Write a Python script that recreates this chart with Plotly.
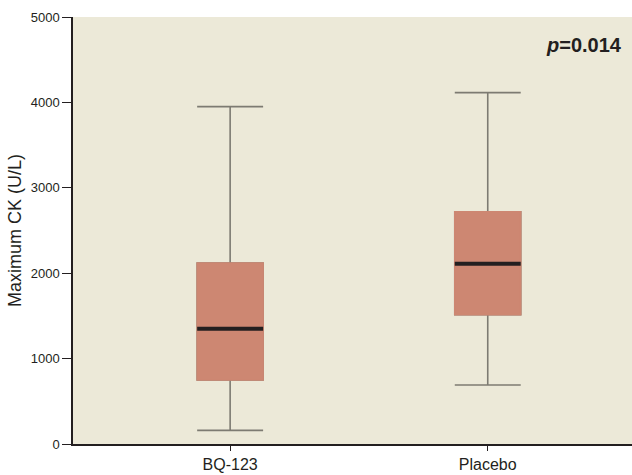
import plotly.graph_objects as go

groups = ["BQ-123", "Placebo"]
lower_whisker = [160, 690]
q1 = [750, 1515]
median = [1350, 2110]
q3 = [2120, 2720]
upper_whisker = [3950, 4115]

y_ticks = [0, 1000, 2000, 3000, 4000, 5000]

BG = "#ECE9D8"
BOX = "#CD8772"
WHISK = "#7D7B72"
MED = "#231F20"
FONT = "Liberation Sans, Arial, sans-serif"

fig = go.Figure()
# whiskers + box
fig.add_trace(go.Box(
    x=groups, q1=q1, median=median, q3=q3,
    lowerfence=lower_whisker, upperfence=upper_whisker,
    fillcolor=BOX, line=dict(color=WHISK, width=1.6),
    whiskerwidth=1, width=0.256, boxpoints=False, showlegend=False, hoverinfo="skip"))
# cover box outline with fill colour
fig.add_trace(go.Box(
    x=groups, q1=q1, median=median, q3=q3,
    lowerfence=q1, upperfence=q3,
    fillcolor=BOX, line=dict(color=BOX, width=1.6),
    whiskerwidth=0, width=0.256, boxpoints=False, showlegend=False, hoverinfo="skip"))
# black median line
fig.add_trace(go.Box(
    x=groups, q1=median, median=median, q3=median,
    lowerfence=median, upperfence=median,
    fillcolor=MED, line=dict(color=MED, width=4),
    whiskerwidth=0, width=0.256, boxpoints=False, showlegend=False, hoverinfo="skip"))

fig.update_layout(
    width=632, height=475,
    margin=dict(l=73, r=0, t=17, b=31),
    paper_bgcolor="white", plot_bgcolor=BG,
    boxmode="overlay",
    font=dict(family=FONT, color="#231F20"),
    xaxis=dict(
        type="category", range=[-0.61, 1.56], automargin=False,
        showline=True, linecolor="#231F20", linewidth=1.5,
        ticks="outside", ticklen=5, tickcolor="#231F20", tickwidth=1,
        tickfont=dict(size=16, color="#231F20"),
        showgrid=False, zeroline=False,
    ),
    yaxis=dict(
        range=[0, 5000], tickvals=y_ticks, ticktext=[str(v) for v in y_ticks],
        automargin=False,
        showline=True, linecolor="#231F20", linewidth=1.5,
        ticks="outside", ticklen=9, tickcolor="#231F20", tickwidth=1,
        tickfont=dict(size=13, color="#231F20"),
        showgrid=False, zeroline=False,
        title=dict(text="Maximum CK (U/L)", standoff=4,
                   font=dict(size=18, color="#231F20")),
    ),
    annotations=[dict(
        xref="paper", yref="paper", x=0.985, y=0.935, xanchor="right", yanchor="middle",
        text="<b><i>p</i>=0.014</b>", showarrow=False,
        font=dict(size=20, color="#231F20"))],
)

fig.write_html("out.html", config={"displayModeBar": False},
               post_script="document.body.style.margin='0';document.body.style.padding='0';")
